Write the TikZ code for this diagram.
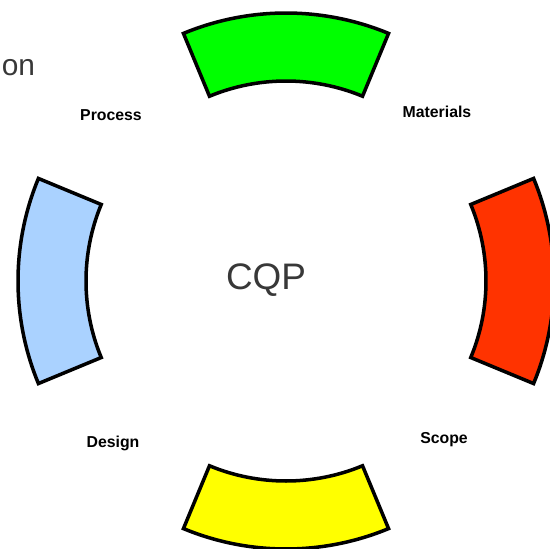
\documentclass[tikz,border=0pt]{standalone}
\usepackage{fontspec}
\setmainfont{Liberation Sans}
\usepackage{xcolor}
\usepackage{tikz}
\usetikzlibrary{positioning}
\definecolor{SegGreen}{HTML}{00FF00}
\definecolor{SegBlue}{HTML}{AAD2FF}
\definecolor{SegRed}{HTML}{FF3300}
\definecolor{SegYellow}{HTML}{FFFF00}
\definecolor{TitleGray}{HTML}{383838}
\tikzset{
  segment/.style={draw=black,line width=2pt},
  seglabel/.style={font=\bfseries\fontsize{9}{10}\selectfont,text=black,inner sep=1pt},
  hub/.style={font=\fontsize{21}{24}\selectfont,text=TitleGray},
  titlepart/.style={font=\fontsize{17}{20}\selectfont,text=TitleGray,inner sep=0pt}
}

\begin{document}
\begin{tikzpicture}
  \useasboundingbox (-5.72,-5.34) rectangle (5.28,5.62);
  \clip (-5.72,-5.34) rectangle (5.28,5.62);
  % ring segments
  \foreach \ang/\col in {90/SegGreen,180/SegBlue,0/SegRed,270/SegYellow}
    \draw[segment,fill=\col] (\ang-22.5:4.0) arc[start angle=\ang-22.5,end angle=\ang+22.5,radius=4.0]
      -- (\ang+22.5:5.36) arc[start angle=\ang+22.5,end angle=\ang-22.5,radius=5.36] -- cycle;
  \node[hub] (cqp) at (-0.4,0.02) {CQP};
  \node[seglabel] (process) at (-3.5,3.32) {Process};
  \node[seglabel] (materials) at (3.02,3.38) {Materials};
  \node[seglabel] (design) at (-3.46,-3.24) {Design};
  \node[seglabel] (scope) at (3.16,-3.18) {Scope};
  \node[titlepart,anchor=west] (title) at (-5.69,4.26) {on};
\end{tikzpicture}
\end{document}
